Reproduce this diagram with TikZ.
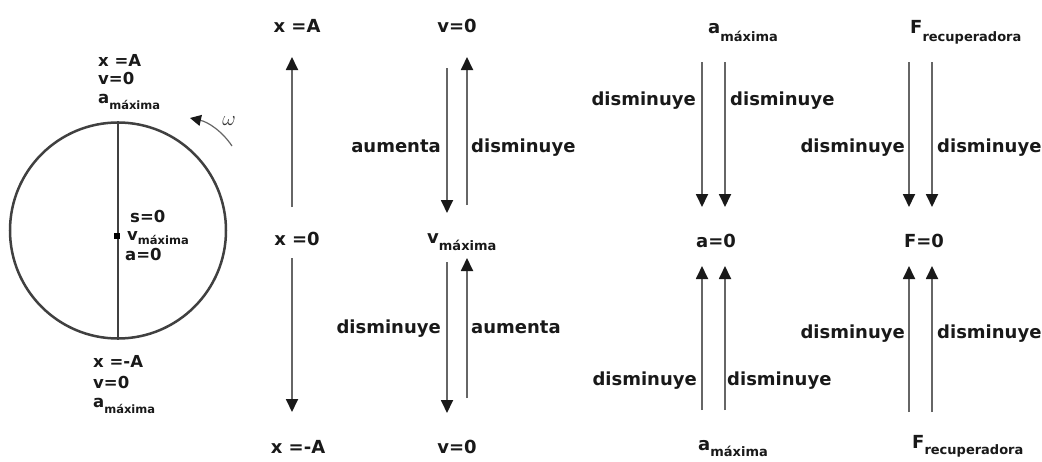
\documentclass[tikz,border=0pt]{standalone}
\usepackage{fontspec}
\setmainfont{DejaVu Sans}
\usetikzlibrary{arrows.meta}
\newcommand\subtxt[3]{\raisebox{-#1pt}{\fontsize{#2}{#2}\selectfont #3}}
\tikzset{
  lab/.style={inner sep=0pt, text=black!90, font=\fontsize{18}{20}\selectfont\bfseries},
  llab/.style={inner sep=0pt, text=black!90, font=\fontsize{16.5}{18}\selectfont\bfseries},
  arr/.style={draw=black!60, line width=1.8pt, -{Triangle[width=12pt,length=13pt,color=black!90]}},
}
\begin{document}
\begin{tikzpicture}[x=1pt,y=-1pt]
\useasboundingbox[fill=white] (0,0) rectangle (1042,461);

% ---- rotating circle ----
\node[circle, draw=black!75, line width=2.5pt, minimum size=216pt, inner sep=0pt] (wheel) at (118,230.5) {};
\draw[draw=black!75, line width=2.5pt] (wheel.north) -- (wheel.south);
\node[fill=black, minimum size=6pt, inner sep=0pt] (pt) at (117,236) {};
\coordinate (wA) at (232,146);
\coordinate (wB) at (190,118);
\draw[draw=black!60, line width=1.2pt, -{Triangle[width=11pt,length=11pt,color=black!90]}]
  (wA) .. controls (222,131) and (208,122) .. (wB);
\node[inner sep=0pt, text=black!80, font=\fontsize{21}{21}\selectfont] (omega) at (229,121) {$\omega$};

\node[llab, anchor=base west] (tx) at (98,66) {x =A};
\node[llab, anchor=base west] (tv) at (98,84) {v=0};
\node[llab, anchor=base west] (ta) at (98,103) {a\subtxt{6}{11.5}{máxima}};
\node[llab, anchor=base west] (cs) at (130,222) {s=0};
\node[llab, anchor=base west] (cv) at (127,240) {v\subtxt{4}{11.5}{máxima}};
\node[llab, anchor=base west] (ca) at (125,260) {a=0};
\node[llab, anchor=base west] (bx) at (93,367) {x =-A};
\node[llab, anchor=base west] (bv) at (93,388) {v=0};
\node[llab, anchor=base west] (ba) at (93,407) {a\subtxt{6}{11.5}{máxima}};

% ---- column x ----
\node[lab, anchor=base] (xA) at (297,32) {x =A};
\node[lab, anchor=base] (x0) at (297,245) {x =0};
\node[lab, anchor=base] (xmA) at (298,453) {x =-A};
\coordinate (x1s) at (292,207); \coordinate (x1e) at (292,57);
\coordinate (x2s) at (292,258); \coordinate (x2e) at (292,412);
\draw[arr] (x1s) -- (x1e);
\draw[arr] (x2s) -- (x2e);

% ---- column v ----
\node[lab, anchor=base] (v0t) at (457,32) {v=0};
\node[lab, anchor=base west] (vmax) at (427,243) {v\subtxt{7}{13}{máxima}};
\node[lab, anchor=base] (v0b) at (457,453) {v=0};
\coordinate (v1s) at (447,68);  \coordinate (v1e) at (447,213);
\coordinate (v2s) at (467,205); \coordinate (v2e) at (467,57);
\coordinate (v3s) at (447,262); \coordinate (v3e) at (447,413);
\coordinate (v4s) at (467,398); \coordinate (v4e) at (467,258);
\draw[arr] (v1s) -- (v1e);
\draw[arr] (v2s) -- (v2e);
\draw[arr] (v3s) -- (v3e);
\draw[arr] (v4s) -- (v4e);
\node[lab, anchor=base east] (vl1) at (441,152) {aumenta};
\node[lab, anchor=base west] (vr1) at (471,152) {disminuye};
\node[lab, anchor=base east] (vl2) at (441,333) {disminuye};
\node[lab, anchor=base west] (vr2) at (471,333) {aumenta};

% ---- column a ----
\node[lab, anchor=base west] (amt) at (708,33) {a\subtxt{8}{13}{máxima}};
\node[lab, anchor=base] (a0) at (716,247) {a=0};
\node[lab, anchor=base west] (amb) at (698,450) {a\subtxt{6}{13}{máxima}};
\coordinate (a1s) at (702,62);  \coordinate (a1e) at (702,207);
\coordinate (a2s) at (725,62);  \coordinate (a2e) at (725,207);
\coordinate (a3s) at (702,410); \coordinate (a3e) at (702,266);
\coordinate (a4s) at (725,410); \coordinate (a4e) at (725,266);
\draw[arr] (a1s) -- (a1e);
\draw[arr] (a2s) -- (a2e);
\draw[arr] (a3s) -- (a3e);
\draw[arr] (a4s) -- (a4e);
\node[lab, anchor=base east] (al1) at (696,105) {disminuye};
\node[lab, anchor=base west] (ar1) at (730,105) {disminuye};
\node[lab, anchor=base east] (al2) at (697,385) {disminuye};
\node[lab, anchor=base west] (ar2) at (727,385) {disminuye};

% ---- column F ----
\node[lab, anchor=base west] (Ft) at (910,33) {F\subtxt{8}{13}{recuperadora}};
\node[lab, anchor=base] (F0) at (924,247) {F=0};
\node[lab, anchor=base west] (Fb) at (912,448) {F\subtxt{6}{13}{recuperadora}};
\coordinate (f1s) at (909,62);  \coordinate (f1e) at (909,207);
\coordinate (f2s) at (932,62);  \coordinate (f2e) at (932,207);
\coordinate (f3s) at (909,412); \coordinate (f3e) at (909,266);
\coordinate (f4s) at (932,412); \coordinate (f4e) at (932,266);
\draw[arr] (f1s) -- (f1e);
\draw[arr] (f2s) -- (f2e);
\draw[arr] (f3s) -- (f3e);
\draw[arr] (f4s) -- (f4e);
\node[lab, anchor=base east] (fl1) at (905,152) {disminuye};
\node[lab, anchor=base west] (fr1) at (937,152) {disminuye};
\node[lab, anchor=base east] (fl2) at (905,338) {disminuye};
\node[lab, anchor=base west] (fr2) at (937,338) {disminuye};
\end{tikzpicture}
\end{document}
